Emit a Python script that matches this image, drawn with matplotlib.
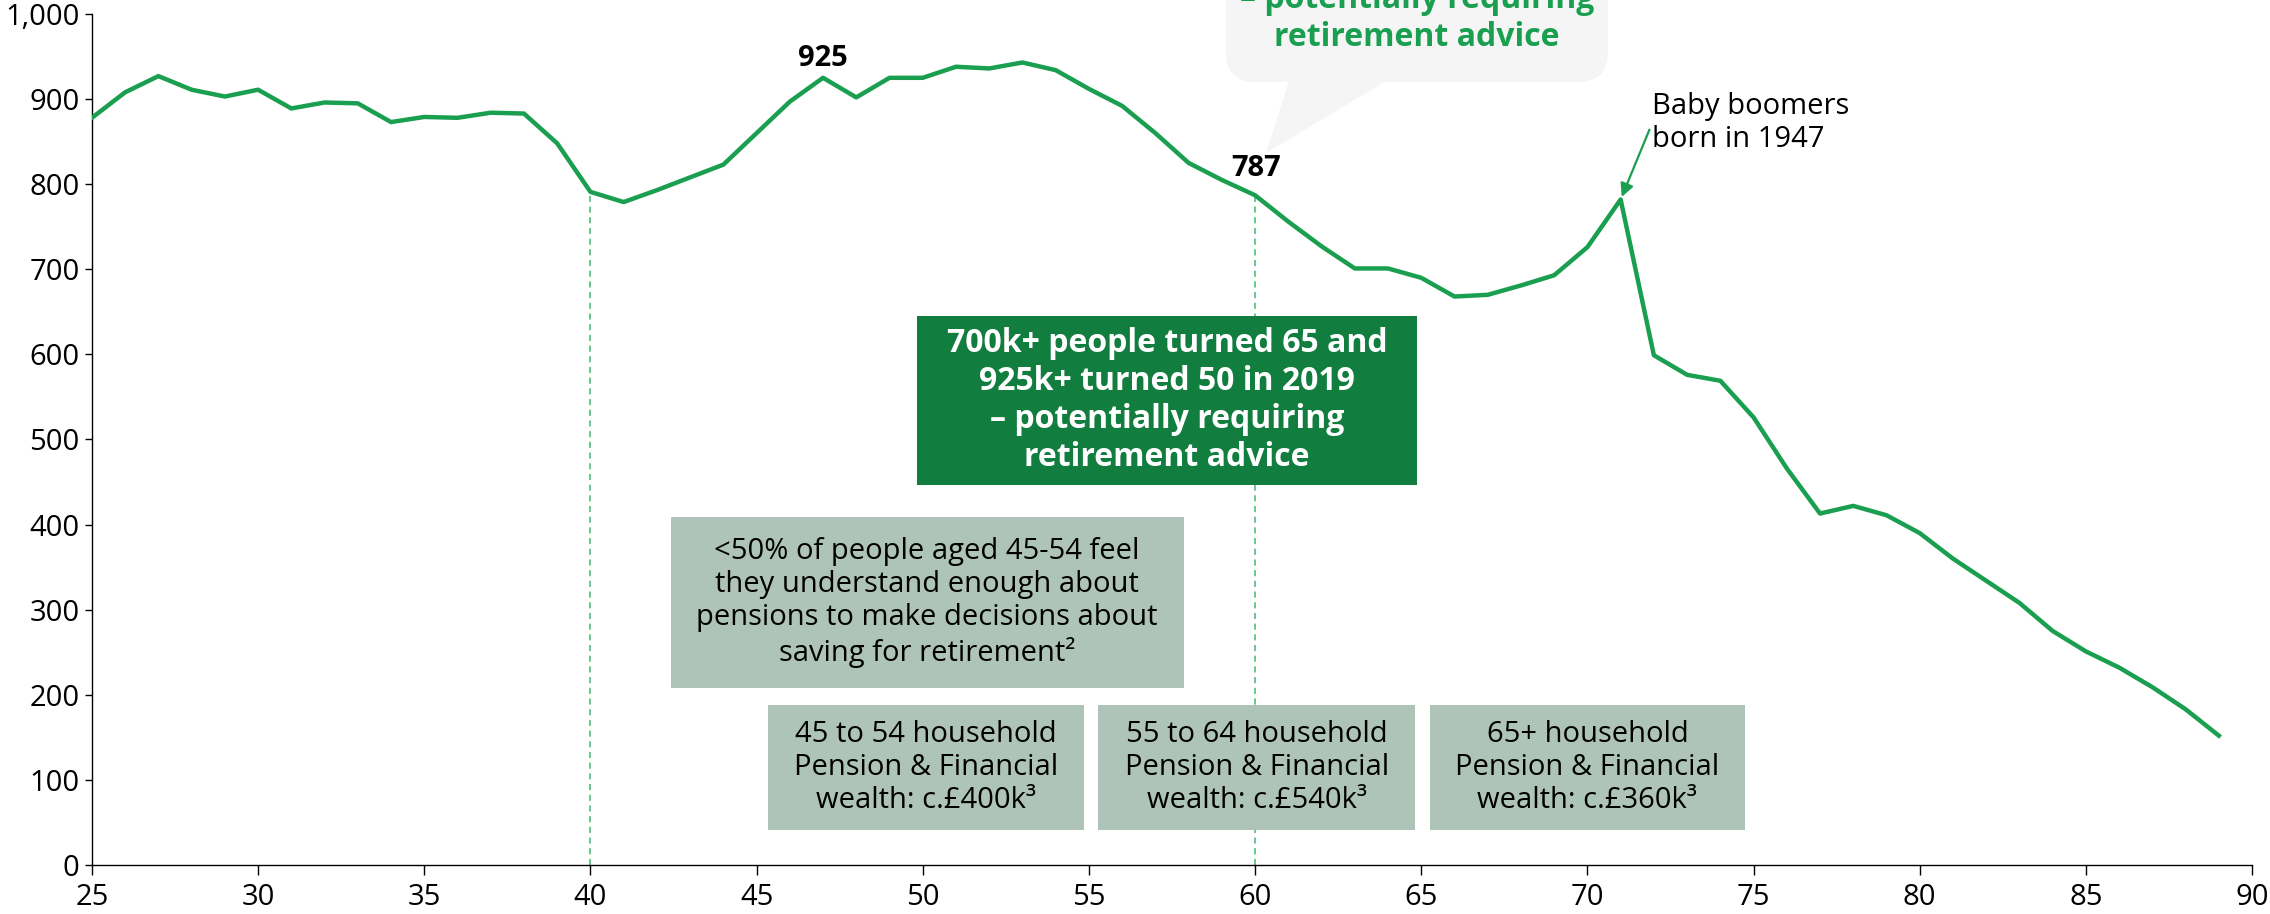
import numpy as np
import matplotlib.pyplot as plt
from matplotlib.patches import Rectangle, FancyBboxPatch, Polygon
from matplotlib.ticker import FuncFormatter

plt.rcParams['font.family'] = ['Open Sans', 'DejaVu Sans']

# UK population by single year of age (thousands)
ages = np.arange(25, 90)
people = [878, 908, 927, 911, 903, 911, 889, 896, 895, 873,
          879, 878, 884, 883, 848, 791, 779, 793, 808, 823,
          860, 897, 925, 902, 925, 925, 938, 936, 943, 934,
          912, 892, 860, 825, 805, 787, 756, 727, 701, 701,
          690, 668, 670, 681, 693, 726, 782, 599, 576, 569,
          526, 466, 413, 422, 411, 390, 360, 334, 308, 275,
          251, 232, 209, 183, 152]

x_ticks = np.arange(25, 91, 5)
y_ticks = np.arange(0, 1001, 100)

green = '#1a9f50'
dark_green = '#117d3f'
grey_green = '#afc4b9'
bubble_grey = '#f5f5f5'

fig = plt.figure(figsize=(22.7, 9.14), dpi=100)

# speech bubble at the top, drawn in pixel space behind the chart
ov = fig.add_axes([0, 0, 1, 1])
ov.set_xlim(0, 2270)
ov.set_ylim(914, 0)
ov.axis('off')
ov.add_patch(FancyBboxPatch((1226, -80), 382, 162,
                            boxstyle='round,pad=0,rounding_size=30',
                            facecolor=bubble_grey, edgecolor='none'))
ov.add_patch(Polygon([(1289, 81), (1266, 153), (1386, 81)],
                     closed=True, facecolor=bubble_grey, edgecolor='none'))

main_msg = '700k+ people turned 65 and\n925k+ turned 50 in 2019\n– potentially requiring\nretirement advice'
ov.text(1417, -20, main_msg, ha='center', va='center', color=green,
        fontsize=23, fontweight='bold', linespacing=1.2)

ax = fig.add_axes([0.0405, 0.0536, 0.9516, 0.9311])
ax.patch.set_visible(False)

ax.plot(ages, people, color=green, lw=3.2, zorder=4)

# dashed markers at age 40 and 60
for a in (40, 60):
    v = people[list(ages).index(a)]
    ax.plot([a, a], [0, v], color='#3dbb6e', lw=1.1, ls=(0, (4, 3)), zorder=1)

ax.set_xlim(25, 90)
ax.set_ylim(0, 1000)
ax.set_xticks(x_ticks)
ax.set_yticks(y_ticks)
ax.yaxis.set_major_formatter(FuncFormatter(lambda v, p: f'{int(v):,}'))
for s in ('top', 'right'):
    ax.spines[s].set_visible(False)
for s in ('left', 'bottom'):
    ax.spines[s].set_linewidth(1.0)
ax.tick_params(axis='x', length=7, width=1, labelsize=21, pad=6)
ax.tick_params(axis='y', length=5, width=1, labelsize=21, pad=4)

# value labels
ax.text(47, 948, '925', ha='center', va='center', fontsize=21, fontweight='bold')
ax.text(60.03, 818, '787', ha='center', va='center', fontsize=21, fontweight='bold')

ax.annotate('Baby boomers\nborn in 1947', xy=(71, 782), xytext=(71.95, 872),
            ha='left', va='center', fontsize=21, linespacing=1.15,
            arrowprops=dict(arrowstyle='-|>', color=green, lw=1.6,
                            shrinkA=0, shrinkB=2, relpos=(0, 0.5),
                            mutation_scale=20))

# boxes
ax.add_patch(Rectangle((49.82, 447), 15.06, 198, facecolor=dark_green,
                       edgecolor='none', zorder=5))
ax.text(57.35, 546, main_msg, ha='center', va='center', color='white',
        fontsize=23, fontweight='bold', linespacing=1.2, zorder=6)

ax.add_patch(Rectangle((42.41, 208), 15.45, 201, facecolor=grey_green,
                       edgecolor='none', zorder=5))
ax.text(50.13, 308.5, '<50% of people aged 45-54 feel\nthey understand enough about\n'
        'pensions to make decisions about\nsaving for retirement²',
        ha='center', va='center', fontsize=21, linespacing=1.2, zorder=6)

wealth = [(45.33, 54.85, '45 to 54 household\nPension & Financial\nwealth: c.£400k³'),
          (55.27, 64.82, '55 to 64 household\nPension & Financial\nwealth: c.£540k³'),
          (65.27, 74.73, '65+ household\nPension & Financial\nwealth: c.£360k³')]
for x0, x1, txt in wealth:
    ax.add_patch(Rectangle((x0, 41), x1 - x0, 147, facecolor=grey_green,
                           edgecolor='none', zorder=5))
    ax.text((x0 + x1) / 2, 114.5, txt, ha='center', va='center', fontsize=21,
            linespacing=1.2, zorder=6)

fig.savefig('out.png', dpi=100)
